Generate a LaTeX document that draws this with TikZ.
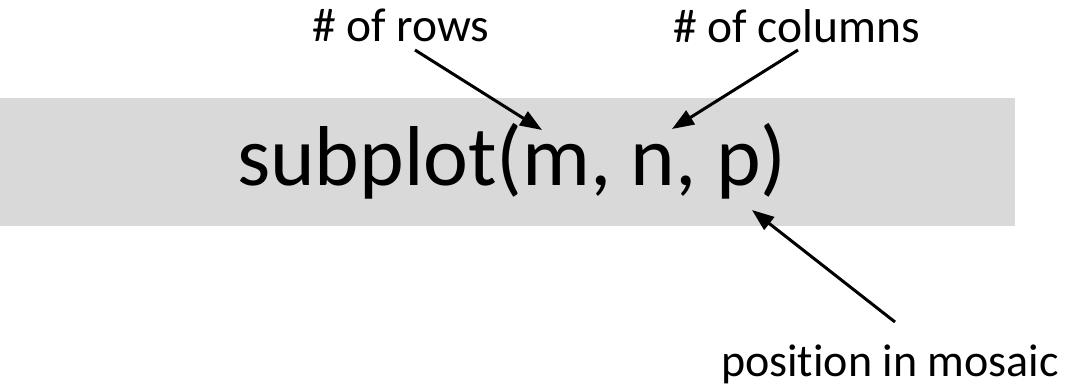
\documentclass[tikz,border=0pt]{standalone}
\usepackage{fontspec}
\setmainfont{Carlito}[Ligatures=CommonOff]
\usetikzlibrary{arrows.meta}
\definecolor{bandgray}{HTML}{D9D9D9}
\tikzset{
  lbl/.style={inner sep=0pt, outer sep=0pt, anchor=base west, font=\fontsize{47.5}{56}\selectfont},
  bigtxt/.style={inner sep=0pt, outer sep=0pt, anchor=base west, font=\fontsize{85}{100}\selectfont},
  pointer/.style={line width=3pt, -{Triangle[length=22pt,width=16pt]}}
}
\begin{document}
\begin{tikzpicture}[x=1pt,y=-1pt]
\useasboundingbox (0,0) rectangle (1068,384);
\fill[bandgray] (0,98) rectangle (1015,226);
\node[bigtxt] (main) at (237,185) {subplot(m, n, p)};
\node[lbl] (rows) at (312,41) {\# of rows};
\node[lbl] (cols) at (673,42) {\# of columns};
\node[lbl, font=\fontsize{46}{54}\selectfont] (pos) at (721,376) {position in mosaic};
\coordinate (rowstail) at (415,50);
\coordinate (rowstip) at (542,130);
\coordinate (colstail) at (798,50);
\coordinate (colstip) at (672,129);
\coordinate (postail) at (895,322);
\coordinate (postip) at (752,210);
\draw[pointer] (rowstail) -- (rowstip);
\draw[pointer] (colstail) -- (colstip);
\draw[pointer] (postail) -- (postip);
\end{tikzpicture}
\end{document}
